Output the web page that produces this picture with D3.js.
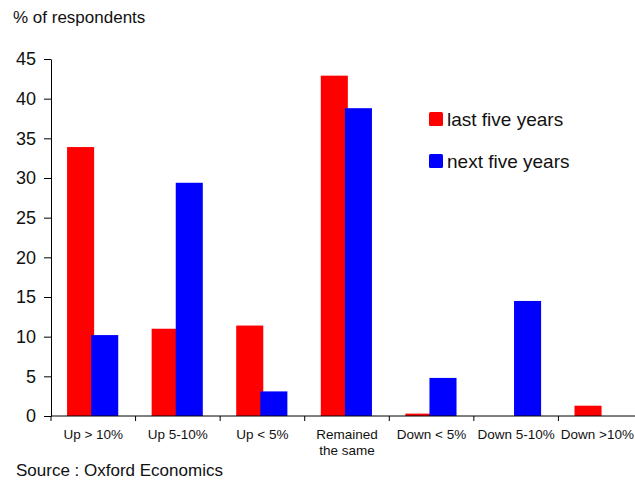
<!DOCTYPE html>
<html>
<head>
<meta charset="utf-8">
<script src="https://cdn.jsdelivr.net/npm/d3@7"></script>
<style>
  html, body { margin: 0; padding: 0; background: #fff; }
  svg { display: block; font-family: "Liberation Sans", Arial, sans-serif; }
</style>
</head>
<body>
<svg id="chart" width="635" height="481"></svg>
<script>
// Survey categories (two-line labels split on "\n")
const categories = ["Up > 10%", "Up 5-10%", "Up < 5%", "Remained\nthe same", "Down < 5%", "Down 5-10%", "Down >10%"];
const lastFiveYears = [33.9, 11.0, 11.4, 42.9, 0.3, 0, 1.3];
const nextFiveYears = [10.2, 29.4, 3.1, 38.8, 4.8, 14.5, 0];
const seriesNames = ["last five years", "next five years"];
const seriesColors = ["#ff0000", "#0000ff"];
const yTicks = [0, 5, 10, 15, 20, 25, 30, 35, 40, 45];

const W = 635;
const svg = d3.select("#chart");

const x = d3.scaleBand()
  .domain(categories)
  .range([51, 643])
  .padding(0);

const y = d3.scaleLinear()
  .domain([0, 45])
  .range([416, 59]);

const bw = x.bandwidth();
const barW = bw * 0.32;
const offsets = [bw * 0.19, bw * 0.475];

const series = [lastFiveYears, nextFiveYears];

// Bars: red first, blue drawn over with a slight overlap
series.forEach((vals, si) => {
  svg.append("g")
    .selectAll("rect")
    .data(categories.map((c, i) => ({ c, v: vals[i] })))
    .join("rect")
    .filter(d => d.v > 0)
    .attr("x", d => x(d.c) + offsets[si])
    .attr("y", d => y(d.v))
    .attr("width", barW)
    .attr("height", d => y(0) - y(d.v))
    .attr("fill", seriesColors[si]);
});

// Y axis
const yAxis = svg.append("g")
  .attr("transform", "translate(51,0)")
  .call(d3.axisLeft(y).tickValues(yTicks).tickSize(7).tickPadding(8).tickSizeOuter(0));
yAxis.select(".domain").attr("stroke", "#000");
yAxis.selectAll(".tick line").attr("stroke", "#000");
yAxis.selectAll(".tick text")
  .attr("font-size", 18)
  .attr("fill", "#111")
  .attr("font-family", "Liberation Sans, Arial, sans-serif");

// X axis: baseline plus tick marks at category boundaries
const xAxis = svg.append("g");
xAxis.append("line")
  .attr("x1", x.range()[0]).attr("x2", x.range()[1])
  .attr("y1", y(0)).attr("y2", y(0))
  .attr("stroke", "#000");
const edges = categories.map(c => x(c)).concat([x.range()[1]]);
xAxis.selectAll("line.tk")
  .data(edges)
  .join("line")
  .attr("class", "tk")
  .attr("x1", d => d).attr("x2", d => d)
  .attr("y1", y(0)).attr("y2", y(0) + 5)
  .attr("stroke", "#000");

// Category labels, kept inside the right edge of the canvas
xAxis.selectAll("text.cat")
  .data(categories)
  .join("text")
  .attr("class", "cat")
  .attr("text-anchor", "middle")
  .attr("font-size", 13.5)
  .attr("fill", "#111")
  .each(function (d) {
    const lines = d.split("\n");
    const t = d3.select(this);
    lines.forEach((ln, i) => {
      const ts = t.append("tspan")
        .attr("x", x(d) + bw / 2)
        .attr("y", 439 + i * 15.5)
        .text(ln);
      const half = ts.node().getComputedTextLength() / 2;
      const cx = Math.min(x(d) + bw / 2, W - 1 - half);
      ts.attr("x", cx);
    });
  });

// Axis title
svg.append("text")
  .attr("x", 13).attr("y", 23)
  .attr("font-size", 17)
  .attr("fill", "#111")
  .text("% of respondents");

// Source note
svg.append("text")
  .attr("x", 16).attr("y", 476)
  .attr("font-size", 17)
  .attr("fill", "#111")
  .text("Source : Oxford Economics");

// Legend
const legend = svg.append("g");
seriesNames.forEach((name, i) => {
  const ly = 112 + i * 42;
  legend.append("rect")
    .attr("x", 429).attr("y", ly)
    .attr("width", 14).attr("height", 14)
    .attr("rx", 1.5)
    .attr("fill", seriesColors[i]);
  legend.append("text")
    .attr("x", 447).attr("y", ly + 14)
    .attr("font-size", 19)
    .attr("fill", "#111")
    .text(name);
});
</script>
</body>
</html>
